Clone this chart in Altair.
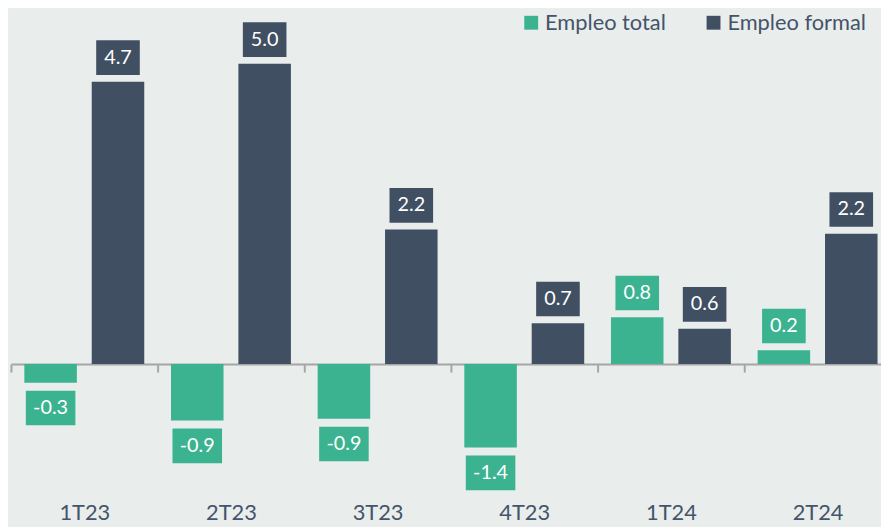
import altair as alt
import pandas as pd

categories = ["1T23", "2T23", "3T23", "4T23", "1T24", "2T24"]
empleo_total = [-0.31, -0.94, -0.91, -1.39, 0.78, 0.23]
empleo_formal = [4.70, 5.00, 2.24, 0.68, 0.59, 2.17]
series = ["Empleo total", "Empleo formal"]
colors = ["#3bb391", "#404f62"]

rows = []
for c, t, f in zip(categories, empleo_total, empleo_formal):
    rows.append({"cat": c, "serie": series[0], "valor": t, "etiqueta": f"{t:.1f}"})
    rows.append({"cat": c, "serie": series[1], "valor": f, "etiqueta": f"{f:.1f}"})
df = pd.DataFrame(rows)

FONT = "Lato"
TEXT = "#44546a"
AXIS = "#a6a6a6"
BG = "#e9edec"

x = alt.X(
    "cat:N",
    sort=categories,
    scale=alt.Scale(range=[0, 888], paddingInner=0, paddingOuter=0),
    axis=alt.Axis(
        title=None, orient="bottom", offset=-151.5,
        domainColor=AXIS, domainWidth=2,
        tickColor=AXIS, tickWidth=2, tickSize=8, tickBand="extent",
        labelFont=FONT, labelFontSize=22, labelColor=TEXT,
        labelPadding=132, labelAngle=0,
    ),
)
xo = alt.XOffset("serie:N", sort=series,
                 scale=alt.Scale(paddingInner=0.2206, paddingOuter=0.1985))
y = alt.Y("valor:Q", scale=alt.Scale(domain=[-2.5, 5.8], nice=False, zero=False), axis=None)
color = alt.Color(
    "serie:N", sort=series,
    scale=alt.Scale(domain=series, range=colors),
    legend=alt.Legend(
        title=None, orient="none", legendX=514, legendY=-4,
        direction="horizontal", symbolType="square", symbolSize=196,
        symbolStrokeWidth=0, symbolOpacity=1,
        labelFont=FONT, labelFontSize=22, labelColor=TEXT,
        labelOffset=3, columnPadding=37, padding=0,
    ),
)

base = alt.Chart(df).encode(x=x, xOffset=xo)

bars = base.mark_bar().encode(y=y, color=color)

pos = base.transform_filter("datum.valor >= 0")
neg = base.transform_filter("datum.valor < 0")

pos_box = pos.mark_bar(width=44, yOffset=-7, y2Offset=-42).encode(
    y=y, y2=alt.Y2("valor:Q"), color=color)
neg_box = neg.mark_bar(width=50, yOffset=8, y2Offset=43).encode(
    y=y, y2=alt.Y2("valor:Q"), color=color)

pos_txt = pos.mark_text(yOffset=-24.5, baseline="middle", align="center",
                        color="white", font=FONT, fontSize=20).encode(
    y=y, text="etiqueta:N")
neg_txt = neg.mark_text(yOffset=25.5, baseline="middle", align="center",
                        color="white", font=FONT, fontSize=20).encode(
    y=y, text="etiqueta:N")

chart = alt.layer(bars, pos_box, neg_box, pos_txt, neg_txt).properties(
    width=878, height=503,
    padding={"left": 3, "top": 5.5, "right": 0, "bottom": 10},
    autosize=alt.AutoSizeParams(type="none"),
    background=BG,
).configure_view(stroke=None)

chart.save("out.html", embed_options={"renderer": "svg", "actions": False})
